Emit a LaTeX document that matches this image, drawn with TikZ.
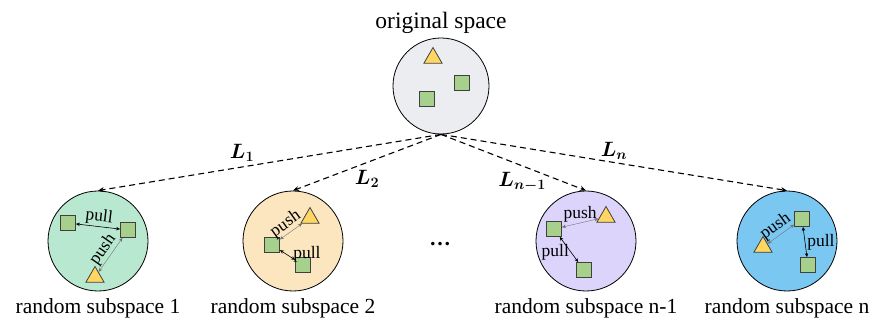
\documentclass[tikz,border=0pt]{standalone}
\usepackage{fontspec}
\setmainfont{Liberation Serif}
\usepackage{amsmath}
\usepackage{bm}
\usetikzlibrary{arrows.meta,positioning,shapes.geometric}

\definecolor{origfill}{RGB}{236,237,240}
\definecolor{subone}{RGB}{184,232,208}
\definecolor{subtwo}{RGB}{251,230,192}
\definecolor{subthree}{RGB}{220,212,250}
\definecolor{subfour}{RGB}{122,200,242}
\definecolor{sqgreen}{RGB}{168,208,141}
\definecolor{trigold}{RGB}{255,214,98}

\begin{document}
\begin{tikzpicture}[x=1pt,y=-1pt,
    space/.style={circle,draw=black,line width=0.8pt,minimum size=100pt,inner sep=0pt},
    sqr/.style={rectangle,draw=black!75,fill=sqgreen,minimum size=15pt,inner sep=0pt,line width=0.8pt},
    tri/.style={regular polygon,regular polygon sides=3,draw=black!75,fill=trigold,minimum size=21pt,inner sep=0pt,line width=0.8pt},
    proj/.style={-{Stealth[length=6pt,width=5pt]},line width=1.1pt,dash pattern=on 6pt off 4pt},
    pull/.style={{Stealth[length=4pt,width=3.5pt]}-{Stealth[length=4pt,width=3.5pt]},line width=0.6pt},
    push/.style={{Stealth[length=4pt,width=3.5pt]}-{Stealth[length=4pt,width=3.5pt]},line width=0.4pt,draw=black!55},
    tag/.style={font=\fontsize{17.5}{18}\selectfont,inner sep=1pt},
    caption/.style={font=\fontsize{21.5}{24}\selectfont,inner sep=1pt},
    lname/.style={font=\fontsize{22}{24}\selectfont,inner sep=2pt}]
\useasboundingbox (0,0) rectangle (873,320);

% original space
\node[space,fill=origfill,minimum size=96pt] (orig) at (441,86) {};
\node[caption,font=\fontsize{23.5}{26}\selectfont,above=3pt of orig] (origlabel) {original space};
\node[tri] (t0) at (433,58) {};
\node[sqr] (a0) at (462,83) {};
\node[sqr] (b0) at (427,99) {};

% random subspaces
\node[space,fill=subone] (sub1) at (98,241) {};
\node[space,fill=subtwo] (sub2) at (293,241) {};
\node[space,fill=subthree] (sub3) at (586,241) {};
\node[space,fill=subfour] (sub4) at (787,241) {};
\node[caption,below=6pt of sub1] (cap1) {random subspace 1};
\node[caption,below=6pt of sub2] (cap2) {random subspace 2};
\node[caption,below=6pt of sub3] (cap3) {random subspace n-1};
\node[caption,below=6pt of sub4] (cap4) {random subspace n};
\node[caption] (dots) at (440,244) {\textbf{\dots}};

% projections
\draw[proj] (orig.south) -- (sub1.north) node[lname,pos=0.58,above=3pt] {$\bm{L_1}$};
\draw[proj] (orig.south) -- (sub2.north) node[lname,pos=0.5,below=5pt] {$\bm{L_2}$};
\draw[proj] (orig.south) -- (sub3.north) node[lname,pos=0.56,below=4pt] {$\bm{L_{n-1}}$};
\draw[proj] (orig.south) -- (sub4.north) node[lname,pos=0.5,above=0pt] {$\bm{L_n}$};

% subspace 1
\node[sqr] (a1) at (68,223) {};
\node[sqr] (b1) at (128,230) {};
\node[tri] (t1) at (95,277) {};
\draw[pull] (a1) -- (b1) node[tag,midway,sloped,above] {pull};
\draw[push] (t1) -- (b1) node[tag,midway,sloped,above,text=black] {push};

% subspace 2
\node[tri] (t2) at (310,218) {};
\node[sqr] (a2) at (272,245) {};
\node[sqr] (b2) at (303,265) {};
\draw[push] (a2) -- (t2) node[tag,midway,sloped,above,text=black] {push};
\draw[pull] (a2) -- (b2) node[tag,pos=0.4,right=6pt] {pull};

% subspace n-1
\node[sqr] (a3) at (554,229) {};
\node[tri] (t3) at (606,217) {};
\node[sqr] (b3) at (584,270) {};
\draw[push] (a3) -- (t3) node[tag,midway,above,text=black] {push};
\draw[pull] (a3) -- (b3) node[tag,pos=0.62,left=1pt] {pull};

% subspace n
\node[sqr] (a4) at (802,219) {};
\node[tri] (t4) at (763,247) {};
\node[sqr] (b4) at (808,265) {};
\draw[push] (t4) -- (a4) node[tag,midway,sloped,above,text=black] {push};
\draw[pull] (a4) -- (b4) node[tag,midway,right=1pt] {pull};

\end{tikzpicture}
\end{document}
